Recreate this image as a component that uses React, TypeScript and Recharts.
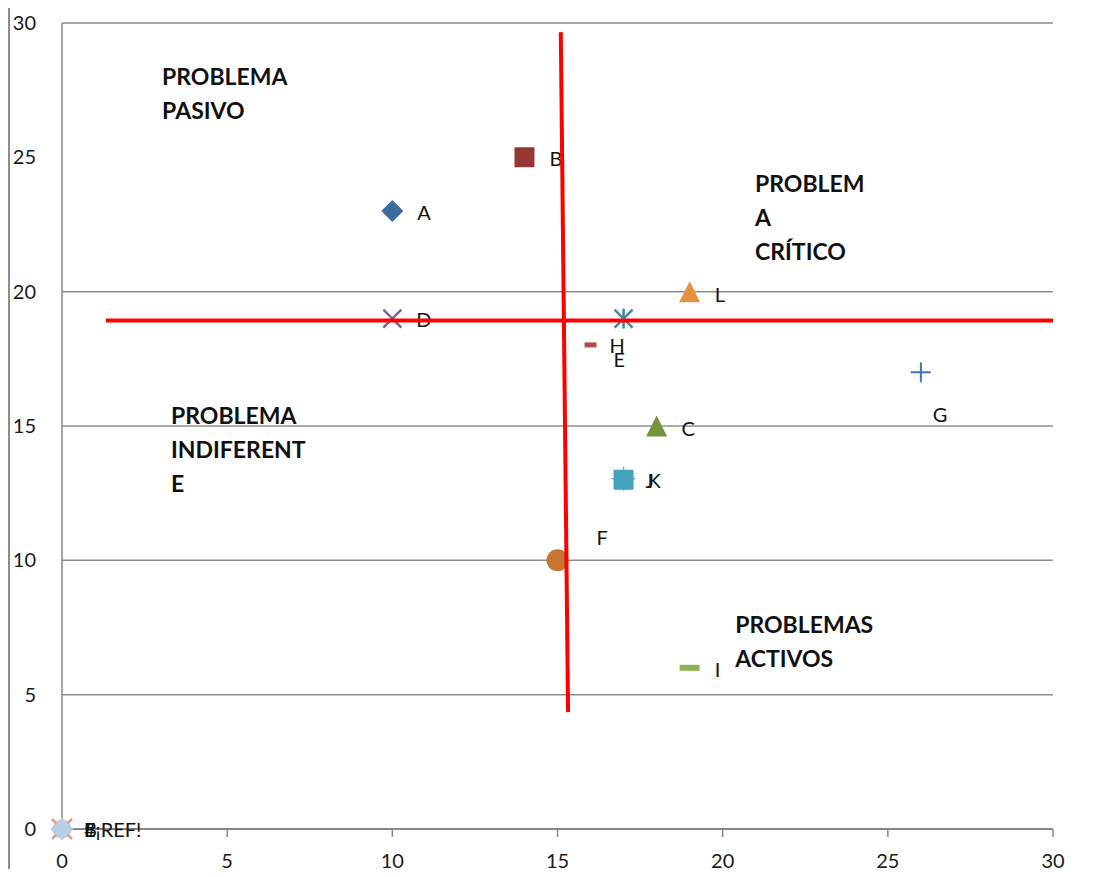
import React from "react";
import { ScatterChart, Scatter, XAxis, YAxis, ReferenceLine } from "recharts";

// series names with their coordinates
const names = ["A", "B", "C", "D", "E", "F", "G", "H", "I", "J", "K", "L"];
const xValues = [10, 14, 18, 10, 17, 15, 26, 16, 19, 17, 17, 19];
const yValues = [23, 25, 15, 19, 19, 10, 17, 18, 6, 13, 13, 20];

// broken-reference series that all sit on the origin
const refLabels = ["#¡REF!", "B", "E"];
const refX = [0, 0, 0];
const refY = [0, 0, 0];

const axisTicks = [0, 5, 10, 15, 20, 25, 30];
const gridValues = [5, 10, 15, 20, 30];

// quadrant captions
const quadrantTitles = [
  ["PROBLEMA", "PASIVO"],
  ["PROBLEM", "A", "CRÍTICO"],
  ["PROBLEMA", "INDIFERENT", "E"],
  ["PROBLEMAS", "ACTIVOS"],
];
const titleX = [3.03, 20.98, 3.3, 20.38];
const titleY = [27.69, 23.71, 15.07, 7.29];

// red dividers drawn across the plot
const hDividerX = [1.33, 30];
const hDividerY = [18.93, 18.93];
const vDividerX = [15.1, 15.32];
const vDividerY = [29.66, 4.35];

const GRAY = "#878787";
const FONT = "Lato, 'Open Sans', sans-serif";

type Kind =
  | "diamond"
  | "square"
  | "triangle"
  | "x"
  | "star"
  | "circle"
  | "plus"
  | "dash"
  | "longdash"
  | "smallplus";

const seriesStyle: Record<string, { kind: Kind; color: string; dx: number; dy: number }> = {
  A: { kind: "diamond", color: "#3D6AA0", dx: 25, dy: 1 },
  B: { kind: "square", color: "#953735", dx: 25, dy: 1 },
  C: { kind: "triangle", color: "#77933C", dx: 25, dy: 2 },
  D: { kind: "x", color: "#7F6199", dx: 24, dy: 0 },
  E: { kind: "star", color: "#3A8BA3", dx: -10, dy: 40 },
  F: { kind: "circle", color: "#C5752F", dx: 39, dy: -23 },
  G: { kind: "plus", color: "#4472B4", dx: 12, dy: 42 },
  H: { kind: "dash", color: "#B84A47", dx: 19, dy: 0 },
  I: { kind: "longdash", color: "#8DB153", dx: 25, dy: 1 },
  J: { kind: "smallplus", color: "#A99BC4", dx: 22, dy: 0 },
  K: { kind: "square", color: "#45A2BB", dx: 24, dy: 0 },
  L: { kind: "triangle", color: "#E8913D", dx: 25, dy: 2 },
};

function drawMarker(kind: Kind, color: string, cx: number, cy: number) {
  switch (kind) {
    case "diamond":
      return (
        <polygon
          points={`${cx},${cy - 10} ${cx + 10},${cy} ${cx},${cy + 10} ${cx - 10},${cy}`}
          fill={color}
          stroke={color}
          strokeWidth={1.5}
          strokeLinejoin="round"
        />
      );
    case "square":
      return <rect x={cx - 10} y={cy - 10} width={20} height={20} rx={1} fill={color} />;
    case "triangle":
      return (
        <polygon
          points={`${cx},${cy - 10.5} ${cx + 10.5},${cy + 10.5} ${cx - 10.5},${cy + 10.5}`}
          fill={color}
        />
      );
    case "x":
      return (
        <g stroke={color} strokeWidth={2.5}>
          <line x1={cx - 9} y1={cy - 9} x2={cx + 9} y2={cy + 9} />
          <line x1={cx - 9} y1={cy + 9} x2={cx + 9} y2={cy - 9} />
        </g>
      );
    case "star":
      return (
        <g stroke={color} strokeWidth={2.5}>
          <line x1={cx - 9} y1={cy - 9} x2={cx + 9} y2={cy + 9} />
          <line x1={cx - 9} y1={cy + 9} x2={cx + 9} y2={cy - 9} />
          <line x1={cx} y1={cy - 10} x2={cx} y2={cy + 10} />
        </g>
      );
    case "circle":
      return <circle cx={cx} cy={cy} r={11} fill={color} />;
    case "plus":
      return (
        <g stroke={color} strokeWidth={2}>
          <line x1={cx - 10} y1={cy} x2={cx + 10} y2={cy} />
          <line x1={cx} y1={cy - 10} x2={cx} y2={cy + 10} />
        </g>
      );
    case "smallplus":
      return (
        <g stroke={color} strokeWidth={1.5}>
          <line x1={cx - 12} y1={cy - 1} x2={cx + 12} y2={cy - 1} />
          <line x1={cx} y1={cy - 13} x2={cx} y2={cy + 11} />
        </g>
      );
    case "dash":
      return <rect x={cx - 6} y={cy - 3} width={12} height={5} fill={color} />;
    case "longdash":
      return <rect x={cx - 10} y={cy - 3} width={20} height={6} fill={color} />;
  }
}

const seriesData = names.map((name, i) => ({ name, x: xValues[i], y: yValues[i] }));
const refData = refLabels.map((name, i) => ({ name, x: refX[i], y: refY[i] }));
const titleData = quadrantTitles.map((lines, i) => ({ lines, x: titleX[i], y: titleY[i] }));
const hDivider = hDividerX.map((x, i) => ({ x, y: hDividerY[i] }));
const vDivider = vDividerX.map((x, i) => ({ x, y: vDividerY[i] }));

const labelText = (x: number, y: number, text: string) => (
  <text x={x} y={y} dominantBaseline="central" fontSize={20} fontFamily={FONT} fill="#111">
    {text}
  </text>
);

const makeShape = (name: string) => (props: any) => {
  const { cx, cy } = props;
  const s = seriesStyle[name];
  return (
    <g>
      {drawMarker(s.kind, s.color, cx, cy)}
      {labelText(cx + s.dx, cy + s.dy, name)}
    </g>
  );
};

// origin markers stacked: green dot, pink cross, pale blue diamond on top
const makeRefShape = (i: number) => (props: any) => {
  const { cx, cy, payload } = props;
  let marker;
  if (i === 0) {
    marker = <circle cx={cx} cy={cy} r={9.5} fill="#C3D69B" />;
  } else if (i === 1) {
    marker = (
      <g stroke="#E09C9A" strokeWidth={2.5}>
        <line x1={cx - 10} y1={cy - 10} x2={cx + 10} y2={cy + 10} />
        <line x1={cx - 10} y1={cy + 10} x2={cx + 10} y2={cy - 10} />
      </g>
    );
  } else {
    marker = (
      <polygon
        points={`${cx},${cy - 10.5} ${cx + 10.5},${cy} ${cx},${cy + 10.5} ${cx - 10.5},${cy}`}
        fill="#B9CDE5"
        stroke="#B9CDE5"
        strokeWidth={1.5}
        strokeLinejoin="round"
      />
    );
  }
  return (
    <g>
      {marker}
      {labelText(cx + 22, cy, payload.name)}
    </g>
  );
};

const titleShape = (props: any) => {
  const { cx, cy, payload } = props;
  return (
    <text x={cx} y={cy} fontSize={23} fontWeight={700} fontFamily={FONT} fill="#111">
      {payload.lines.map((line: string, i: number) => (
        <tspan key={i} x={cx} dy={i === 0 ? 0 : 34}>
          {line}
        </tspan>
      ))}
    </text>
  );
};

const noDot = () => <g />;

export default function App() {
  return (
    <div style={{ position: "relative", width: 1095, height: 877, margin: -8, background: "#fff" }}>
      <div
        style={{
          position: "absolute",
          left: 8,
          top: 5,
          right: 0,
          bottom: 0,
          borderLeft: "2px solid #8c8c8c",
          borderTop: "3px solid #8c8c8c",
        }}
      />
      <ScatterChart
        width={1095}
        height={877}
        margin={{ top: 23, right: 42, bottom: 0, left: 0 }}
        style={{ position: "absolute", left: 0, top: 0 }}
      >
        <XAxis
          type="number"
          dataKey="x"
          domain={[0, 30]}
          ticks={axisTicks}
          height={48}
          tickSize={8}
          tickMargin={17}
          axisLine={{ stroke: GRAY, strokeWidth: 2 }}
          tickLine={{ stroke: GRAY, strokeWidth: 1.5 }}
          tick={{ fontSize: 20, fontFamily: FONT, fill: "#1a1a1a" }}
        />
        <YAxis
          type="number"
          dataKey="y"
          domain={[0, 30]}
          ticks={axisTicks}
          width={62}
          tickSize={9}
          tickMargin={17}
          axisLine={{ stroke: GRAY, strokeWidth: 1.5 }}
          tickLine={false}
          tick={{ fontSize: 20, fontFamily: FONT, fill: "#1a1a1a" }}
        />
        {gridValues.map((v) => (
          <ReferenceLine key={`grid-${v}`} y={v} stroke="#8c8c8c" strokeWidth={1.5} />
        ))}
        {refData.map((d, i) => (
          <Scatter
            key={`ref-${i}`}
            name={`ref-${i}`}
            data={[d]}
            shape={makeRefShape(i)}
            isAnimationActive={false}
          />
        ))}
        {seriesData.map((d) => (
          <Scatter
            key={d.name}
            name={d.name}
            data={[d]}
            shape={makeShape(d.name)}
            isAnimationActive={false}
          />
        ))}
        <Scatter data={titleData} shape={titleShape} isAnimationActive={false} />
        <Scatter
          data={hDivider}
          line={{ stroke: "#FF0000", strokeWidth: 4 }}
          shape={noDot}
          isAnimationActive={false}
        />
        <Scatter
          data={vDivider}
          line={{ stroke: "#FF0000", strokeWidth: 4 }}
          shape={noDot}
          isAnimationActive={false}
        />
      </ScatterChart>
    </div>
  );
}
